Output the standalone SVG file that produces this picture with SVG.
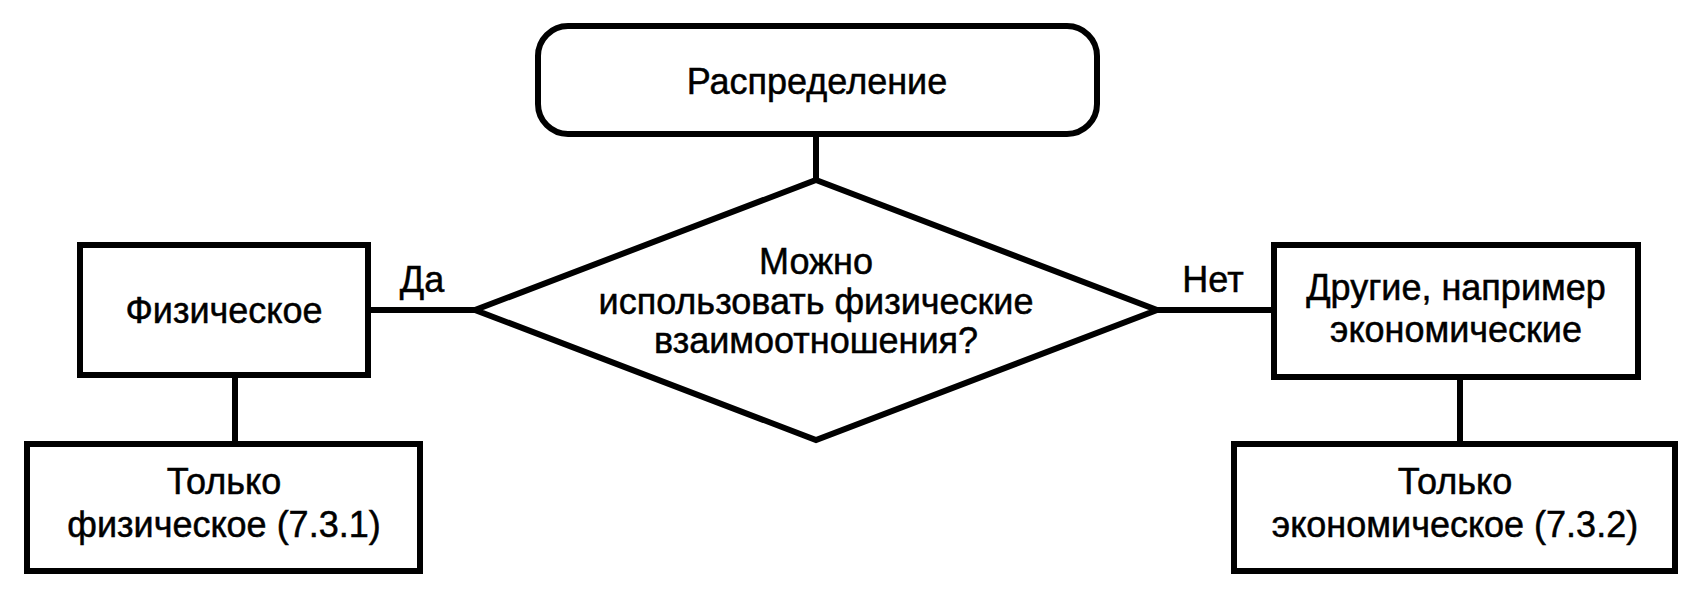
<svg xmlns="http://www.w3.org/2000/svg" width="1708" height="594" viewBox="0 0 1708 594">
<style>
.s{fill:#fff;stroke:#000;stroke-width:6}
.c{fill:none;stroke:#000;stroke-width:6}
text{font-family:"Liberation Sans",Arial,sans-serif;font-size:36px;fill:#000;stroke:#000;stroke-width:0.5;text-anchor:middle}
</style>
<rect width="1708" height="594" fill="#fff"/>
<g id="connectors">
<line class="c" x1="816" y1="134" x2="816" y2="180"/>
<line class="c" x1="368" y1="310" x2="475" y2="310"/>
<line class="c" x1="1157" y1="310" x2="1274" y2="310"/>
<line class="c" x1="235" y1="375" x2="235" y2="444"/>
<line class="c" x1="1460" y1="377" x2="1460" y2="444"/>
<text x="422" y="292">Да</text>
<text x="1213" y="292">Нет</text>
</g>
<g id="start">
<rect class="s" x="538" y="26" width="559" height="108" rx="30"/>
<text x="817" y="94">Распределение</text>
</g>
<g id="decision">
<polygon class="s" points="816,180 1157,310 816,440 475,310"/>
<text x="816" y="274">Можно</text>
<text x="816" y="314">использовать физические</text>
<text x="816" y="353">взаимоотношения?</text>
</g>
<g id="physical">
<rect class="s" x="80" y="245" width="288" height="130"/>
<text x="224" y="323">Физическое</text>
</g>
<g id="other">
<rect class="s" x="1274" y="245" width="364" height="132"/>
<text x="1456" y="300">Другие, например</text>
<text x="1456" y="342">экономические</text>
</g>
<g id="only-physical">
<rect class="s" x="27" y="444" width="393" height="127"/>
<text x="224" y="494">Только</text>
<text x="224" y="537">физическое (7.3.1)</text>
</g>
<g id="only-economic">
<rect class="s" x="1234" y="444" width="441" height="127"/>
<text x="1455" y="494">Только</text>
<text x="1455" y="537">экономическое (7.3.2)</text>
</g>
</svg>
